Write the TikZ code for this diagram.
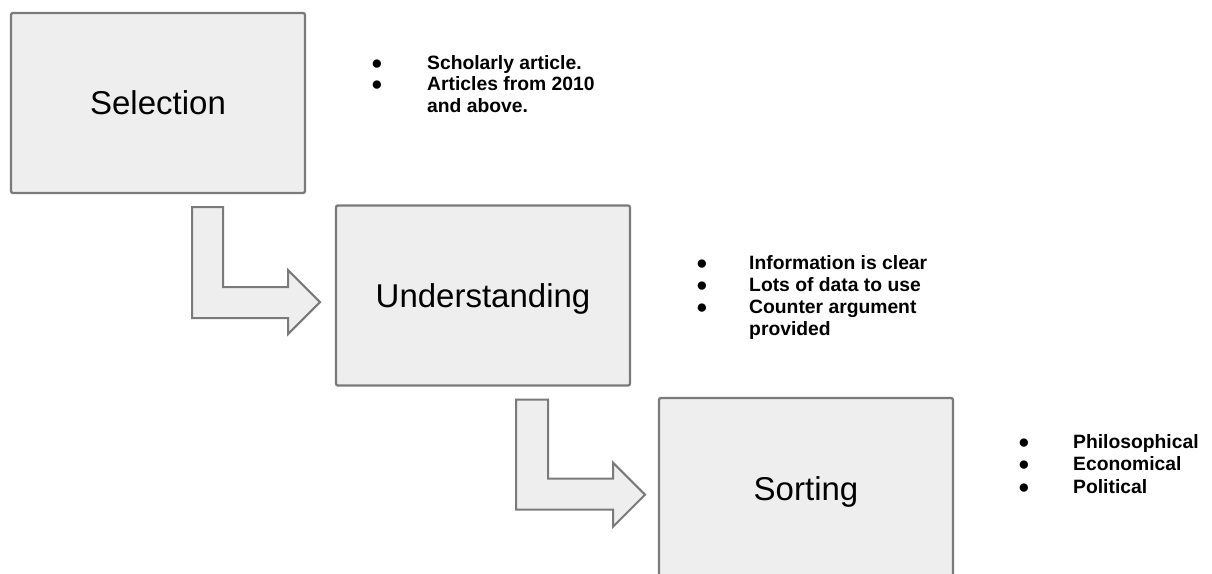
\documentclass[tikz,border=0pt]{standalone}
\usepackage{fontspec}
\setmainfont{Liberation Sans}
\usetikzlibrary{calc}
\definecolor{boxfill}{HTML}{EEEEEE}
\definecolor{boxline}{HTML}{7A7A7A}
\newcommand{\notedot}[1]{\makebox[#1][l]{●}}
\begin{document}
\begin{tikzpicture}[x=1pt,y=-1pt,
		stage/.style={draw=boxline,fill=boxfill,line width=2.3pt,rounded corners=2pt,minimum width=294pt,minimum height=180pt,inner sep=0pt,text depth=0pt,font=\fontsize{33}{40}\selectfont},
		bentarrow/.style={draw=boxline,fill=boxfill,line width=2pt,line join=miter},
		notes/.style={anchor=base west,align=left,inner sep=0pt,font=\bfseries\fontsize{19.3}{22}\selectfont}]
		\useasboundingbox (0,0) rectangle (1212,573);
		\clip (0,0) rectangle (1212,573);
		\node[stage] (sel) at (158,103) {Selection};
		\node[stage] (und) at (483,295.5) {Understanding};
		\node[stage,minimum height=181pt] (sor) at (806,488.5) {Sorting};
		\draw[bentarrow] ($(sel.south)+(34,13)$) -- ++(31,0) -- ++(0,80) -- ++(65,0) -- ++(0,-17) -- ++(32,32) -- ++(-32,32) -- ++(0,-16) -- ++(-96,0) -- cycle;
		\draw[bentarrow] ($(und.south)+(33,13)$) -- ++(32,0) -- ++(0,79) -- ++(65,0) -- ++(0,-16) -- ++(32,32) -- ++(-32,32) -- ++(0,-17) -- ++(-97,0) -- cycle;
		\node[notes,font=\bfseries\fontsize{19.3}{21.5}\selectfont] (selnotes) at (371,112) {\notedot{56pt}Scholarly article.\\\notedot{56pt}Articles from 2010\\\hspace*{56pt}and above.};
		\node[notes] (undnotes) at (696,335) {\notedot{53pt}Information is clear\\\notedot{53pt}Lots of data to use\\\notedot{53pt}Counter argument\\\hspace*{53pt}provided};
		\node[notes,font=\bfseries\fontsize{19.3}{22.5}\selectfont] (sornotes) at (1018,493) {\notedot{55pt}Philosophical\\\notedot{55pt}Economical\\\notedot{55pt}Political};
\end{tikzpicture}
\end{document}
